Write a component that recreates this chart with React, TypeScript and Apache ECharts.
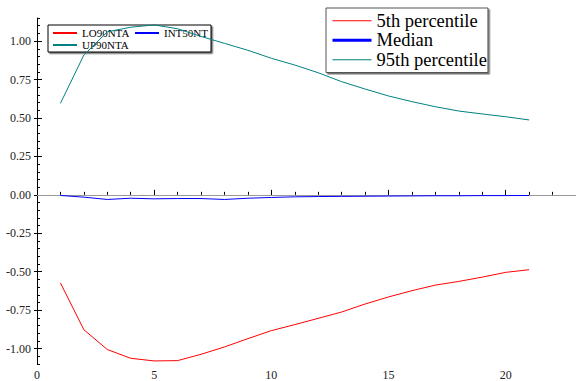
import React, { useEffect, useRef } from "react";
import * as echarts from "echarts";

const xs = [1, 2, 3, 4, 5, 6, 7, 8, 9, 10, 11, 12, 13, 14, 15, 16, 17, 18, 19, 20, 21];
const lo90 = [-0.573, -0.877, -1.006, -1.063, -1.08, -1.078, -1.037, -0.989, -0.935, -0.883, -0.844, -0.803, -0.762, -0.71, -0.664, -0.623, -0.587, -0.563, -0.535, -0.504, -0.487];
const median = [-0.004, -0.015, -0.03, -0.022, -0.026, -0.024, -0.024, -0.03, -0.022, -0.017, -0.013, -0.011, -0.01, -0.009, -0.008, -0.007, -0.006, -0.006, -0.005, -0.005, -0.004];
const up90 = [0.595, 0.909, 1.06, 1.09, 1.105, 1.08, 1.03, 0.985, 0.94, 0.888, 0.844, 0.794, 0.736, 0.688, 0.643, 0.606, 0.573, 0.545, 0.526, 0.508, 0.487];

const xTickLabels = [0, 5, 10, 15, 20];
const yTickLabels = [-1.0, -0.75, -0.5, -0.25, 0.0, 0.25, 0.5, 0.75, 1.0];

const mainNames = ["5th percentile", "Median", "95th percentile"];
const smallNames = ["LO90NTA", "INT50NT", "UP90NTA"];
const colors = ["#ff0000", "#0000ff", "#008080"];
const legendWidths = [1, 3, 1];

const X_MIN = 0;
const X_MAX = 23;
const Y_MIN = -1.1;
const Y_MAX = 1.15;

const FONT = "'Liberation Serif', 'Times New Roman', serif";

const xMinor: number[] = [];
for (let i = X_MIN; i <= X_MAX; i++) xMinor.push(i);
const yMinor: number[] = [];
for (let i = Math.ceil(Y_MIN / 0.05); i <= Math.floor(Y_MAX / 0.05 + 1e-9); i++) yMinor.push(+(i * 0.05).toFixed(2));

export default function App() {
  const ref = useRef<HTMLDivElement>(null);
  useEffect(() => {
    if (!ref.current) return;
    const chart = echarts.init(ref.current, null, { renderer: "svg" });
    const values = [lo90, median, up90];
    const series: any[] = values.map((v, i) => ({
      name: mainNames[i],
      type: "line",
      symbol: "none",
      data: xs.map((x, j) => [x, v[j]]),
      lineStyle: { color: colors[i], width: 1 },
      itemStyle: { color: colors[i] },
      z: 3,
      ...(i === 1
        ? {
            markLine: {
              silent: true,
              symbol: "none",
              label: { show: false },
              lineStyle: { color: "#999999", width: 1, type: "solid" },
              data: [{ yAxis: 0 }],
              z: 1,
            },
          }
        : {}),
    }));
    smallNames.forEach((n, i) => {
      series.push({
        name: n,
        type: "line",
        symbol: "none",
        data: [],
        lineStyle: { color: colors[i], width: 1 },
        itemStyle: { color: colors[i] },
      });
    });
    const axisBase = {
      splitLine: { show: false },
      minorTick: { show: false },
    };
    chart.setOption({
      animation: false,
      grid: { left: 37, right: 0, top: 18, bottom: 17 },
      xAxis: [
        {
          ...axisBase,
          type: "value",
          min: X_MIN,
          max: X_MAX,
          position: "bottom",
          axisLine: { lineStyle: { color: "#000", width: 1 } },
          axisTick: { inside: true, length: 5, customValues: xTickLabels, lineStyle: { color: "#000" } },
          axisLabel: { customValues: xTickLabels, color: "#222", fontFamily: FONT, fontSize: 12, margin: 5 },
        },
        {
          ...axisBase,
          type: "value",
          min: X_MIN,
          max: X_MAX,
          position: "bottom",
          offset: 0,
          axisLine: { show: false },
          axisTick: { inside: true, length: 3, customValues: xMinor, lineStyle: { color: "#000" } },
          axisLabel: { show: false },
        },
      ],
      yAxis: [
        {
          ...axisBase,
          type: "value",
          min: Y_MIN,
          max: Y_MAX,
          position: "left",
          axisLine: { show: true, lineStyle: { color: "#000", width: 1 } },
          axisTick: { show: true, inside: true, length: 5, customValues: yTickLabels, lineStyle: { color: "#000" } },
          axisLabel: {
            customValues: yTickLabels,
            color: "#222",
            fontFamily: FONT,
            fontSize: 12,
            margin: 6,
            formatter: (v: number) => v.toFixed(2),
          },
        },
        {
          ...axisBase,
          type: "value",
          min: Y_MIN,
          max: Y_MAX,
          position: "left",
          offset: 0,
          axisLine: { show: false },
          axisTick: { show: true, inside: true, length: 3, customValues: yMinor, lineStyle: { color: "#000" } },
          axisLabel: { show: false },
        },
        {
          ...axisBase,
          type: "value",
          min: Y_MIN,
          max: Y_MAX,
          position: "left",
          offset: 0,
          axisLine: { show: false },
          axisTick: { show: true, inside: false, length: 3, customValues: yTickLabels, lineStyle: { color: "#000" } },
          axisLabel: { show: false },
        },
      ],
      legend: [
        {
          data: mainNames.map((n, i) => ({ name: n, lineStyle: { width: legendWidths[i] } })),
          orient: "vertical",
          left: 326,
          top: 8,
          itemWidth: 39,
          itemHeight: 14,
          itemGap: 0,
          padding: [3, 1, 3, 5],
          backgroundColor: "#fff",
          borderColor: "#555",
          borderWidth: 1,
          shadowColor: "rgba(0,0,0,0.55)",
          shadowOffsetX: 1.5,
          shadowOffsetY: 1.5,
          shadowBlur: 0,
          itemStyle: { opacity: 0 },
          textStyle: { fontFamily: FONT, fontSize: 18.5, lineHeight: 19.5, color: "#000" },
        },
        {
          data: [
            { name: smallNames[0], textStyle: { width: 52 } },
            { name: smallNames[1], textStyle: { width: 46 } },
            { name: smallNames[2], textStyle: { width: 52 } },
          ],
          orient: "horizontal",
          left: 48,
          top: 25,
          width: 165,
          z: 1,
          itemWidth: 24,
          itemHeight: 8,
          itemGap: 0,
          padding: [2, 1, 1, 4],
          backgroundColor: "#fff",
          borderColor: "#000",
          borderWidth: 1,
          shadowColor: "rgba(0,0,0,0.55)",
          shadowOffsetX: 1.5,
          shadowOffsetY: 1.5,
          shadowBlur: 0,
          itemStyle: { opacity: 0 },
          textStyle: { fontFamily: FONT, fontSize: 11, lineHeight: 12, color: "#000" },
        },
      ],
      series,
    });
    return () => chart.dispose();
  }, []);
  return (
    <div
      ref={ref}
      style={{ position: "fixed", left: 0, top: 0, width: 576, height: 381, background: "#fff" }}
    />
  );
}
